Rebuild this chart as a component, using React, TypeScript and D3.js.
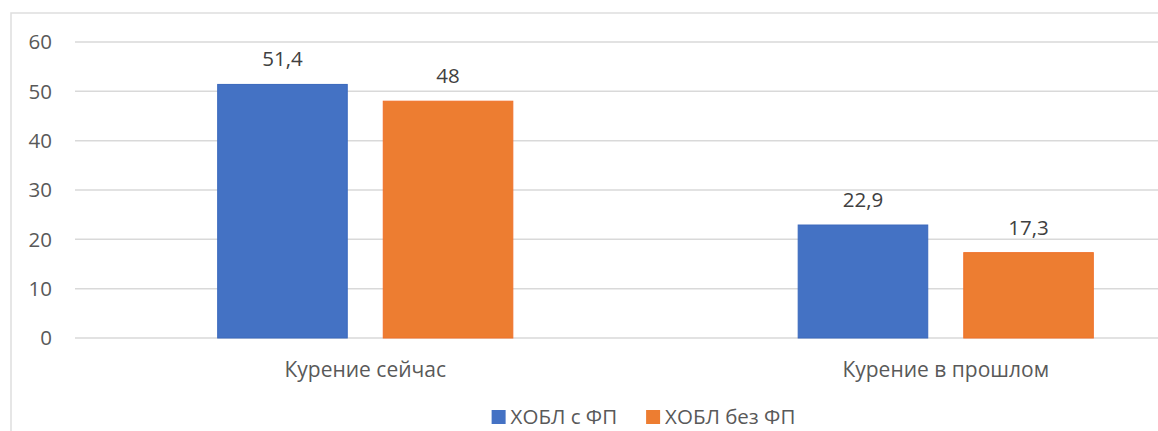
import React, { useEffect, useRef } from "react";
import * as d3 from "d3";

const categories = ["Курение сейчас", "Курение в прошлом"];
const seriesNames = ["ХОБЛ с ФП", "ХОБЛ без ФП"];
const withFP = [51.4, 22.9];
const withoutFP = [48, 17.3];
const yTicks = [0, 10, 20, 30, 40, 50, 60];

const colors = ["#4472C4", "#ED7D31"];
const strokes = ["#3A68BC", "#F0702A"];
const textColor = "#595959";
const font = "'Open Sans', sans-serif";

const App: React.FC = () => {
	const svgRef = useRef<SVGSVGElement | any>();

	useEffect(() => {
		const svg = d3.select(svgRef.current);
		svg.selectAll("*").remove();

		const values = [withFP, withoutFP];

		// chart frame (only left and top edges are visible in the crop)
		svg
			.append("rect")
			.attr("x", 11)
			.attr("y", 13)
			.attr("width", 1400)
			.attr("height", 600)
			.attr("fill", "none")
			.attr("stroke", "#DEDEDE")
			.attr("stroke-width", 1.5);

		const yScale = d3.scaleLinear().domain([0, 60]).range([338, 42]);
		const x0 = d3.scaleBand().domain(categories).range([75, 1236]);
		const bw = x0.bandwidth();
		const x1 = d3
			.scaleBand()
			.domain(seriesNames)
			.range([bw * 0.2458, bw * 0.7542])
			.paddingInner(0.2175);

		// gridlines
		svg
			.append("g")
			.selectAll("line")
			.data(yTicks)
			.join("line")
			.attr("x1", 75)
			.attr("x2", 1158)
			.attr("y1", (d) => yScale(d))
			.attr("y2", (d) => yScale(d))
			.attr("stroke", "#D9D9D9")
			.attr("stroke-width", 1.5);

		// y tick labels
		svg
			.append("g")
			.selectAll("text")
			.data(yTicks)
			.join("text")
			.attr("x", 52)
			.attr("y", (d) => yScale(d))
			.attr("dy", "0.36em")
			.attr("text-anchor", "end")
			.attr("font-family", font)
			.attr("font-size", 20.5)
			.attr("fill", textColor)
			.text((d) => d);

		// bars + value labels
		seriesNames.forEach((s, si) => {
			const g = svg.append("g");
			g.selectAll("rect")
				.data(values[si])
				.join("rect")
				.attr("x", (d, i) => (x0(categories[i]) as number) + (x1(s) as number))
				.attr("y", (d) => yScale(d))
				.attr("width", x1.bandwidth())
				.attr("height", (d) => yScale(0) - yScale(d))
				.attr("fill", colors[si])
				.attr("stroke", strokes[si])
				.attr("stroke-width", 1);

			g.selectAll("text")
				.data(values[si])
				.join("text")
				.attr(
					"x",
					(d, i) =>
						(x0(categories[i]) as number) + (x1(s) as number) + x1.bandwidth() / 2
				)
				.attr("y", (d) => yScale(d) - 18)
				.attr("text-anchor", "middle")
				.attr("font-family", font)
				.attr("font-size", 20.5)
				.attr("fill", "#404040")
				.text((d) => String(d).replace(".", ","));
		});

		// category labels
		svg
			.append("g")
			.selectAll("text")
			.data(categories)
			.join("text")
			.attr("x", (d) => (x0(d) as number) + bw / 2)
			.attr("y", 377)
			.attr("text-anchor", "middle")
			.attr("font-family", font)
			.attr("font-size", 21)
			.attr("fill", textColor)
			.text((d) => d);

		// legend (kept just inside the bottom edge)
		const legend = svg.append("g");
		let cursor = 0;
		seriesNames.forEach((s, si) => {
			const item = legend.append("g").attr("transform", `translate(${cursor},0)`);
			item
				.append("rect")
				.attr("x", 0)
				.attr("y", 410)
				.attr("width", 14)
				.attr("height", 14)
				.attr("fill", colors[si]);
			const t = item
				.append("text")
				.attr("x", 19)
				.attr("y", 424)
				.attr("font-family", font)
				.attr("font-size", 20.5)
				.attr("fill", textColor)
				.text(s);
			const len = (t.node() as SVGTextElement).getComputedTextLength();
			cursor += 19 + len + 29;
		});
		const total = cursor - 29;
		legend.attr("transform", `translate(${643.5 - total / 2},0)`);
	}, []);

	return (
		<svg
			ref={svgRef}
			width={1158}
			height={431}
			style={{ position: "absolute", left: 0, top: 0, background: "#fff" }}
		/>
	);
};

export default App;
